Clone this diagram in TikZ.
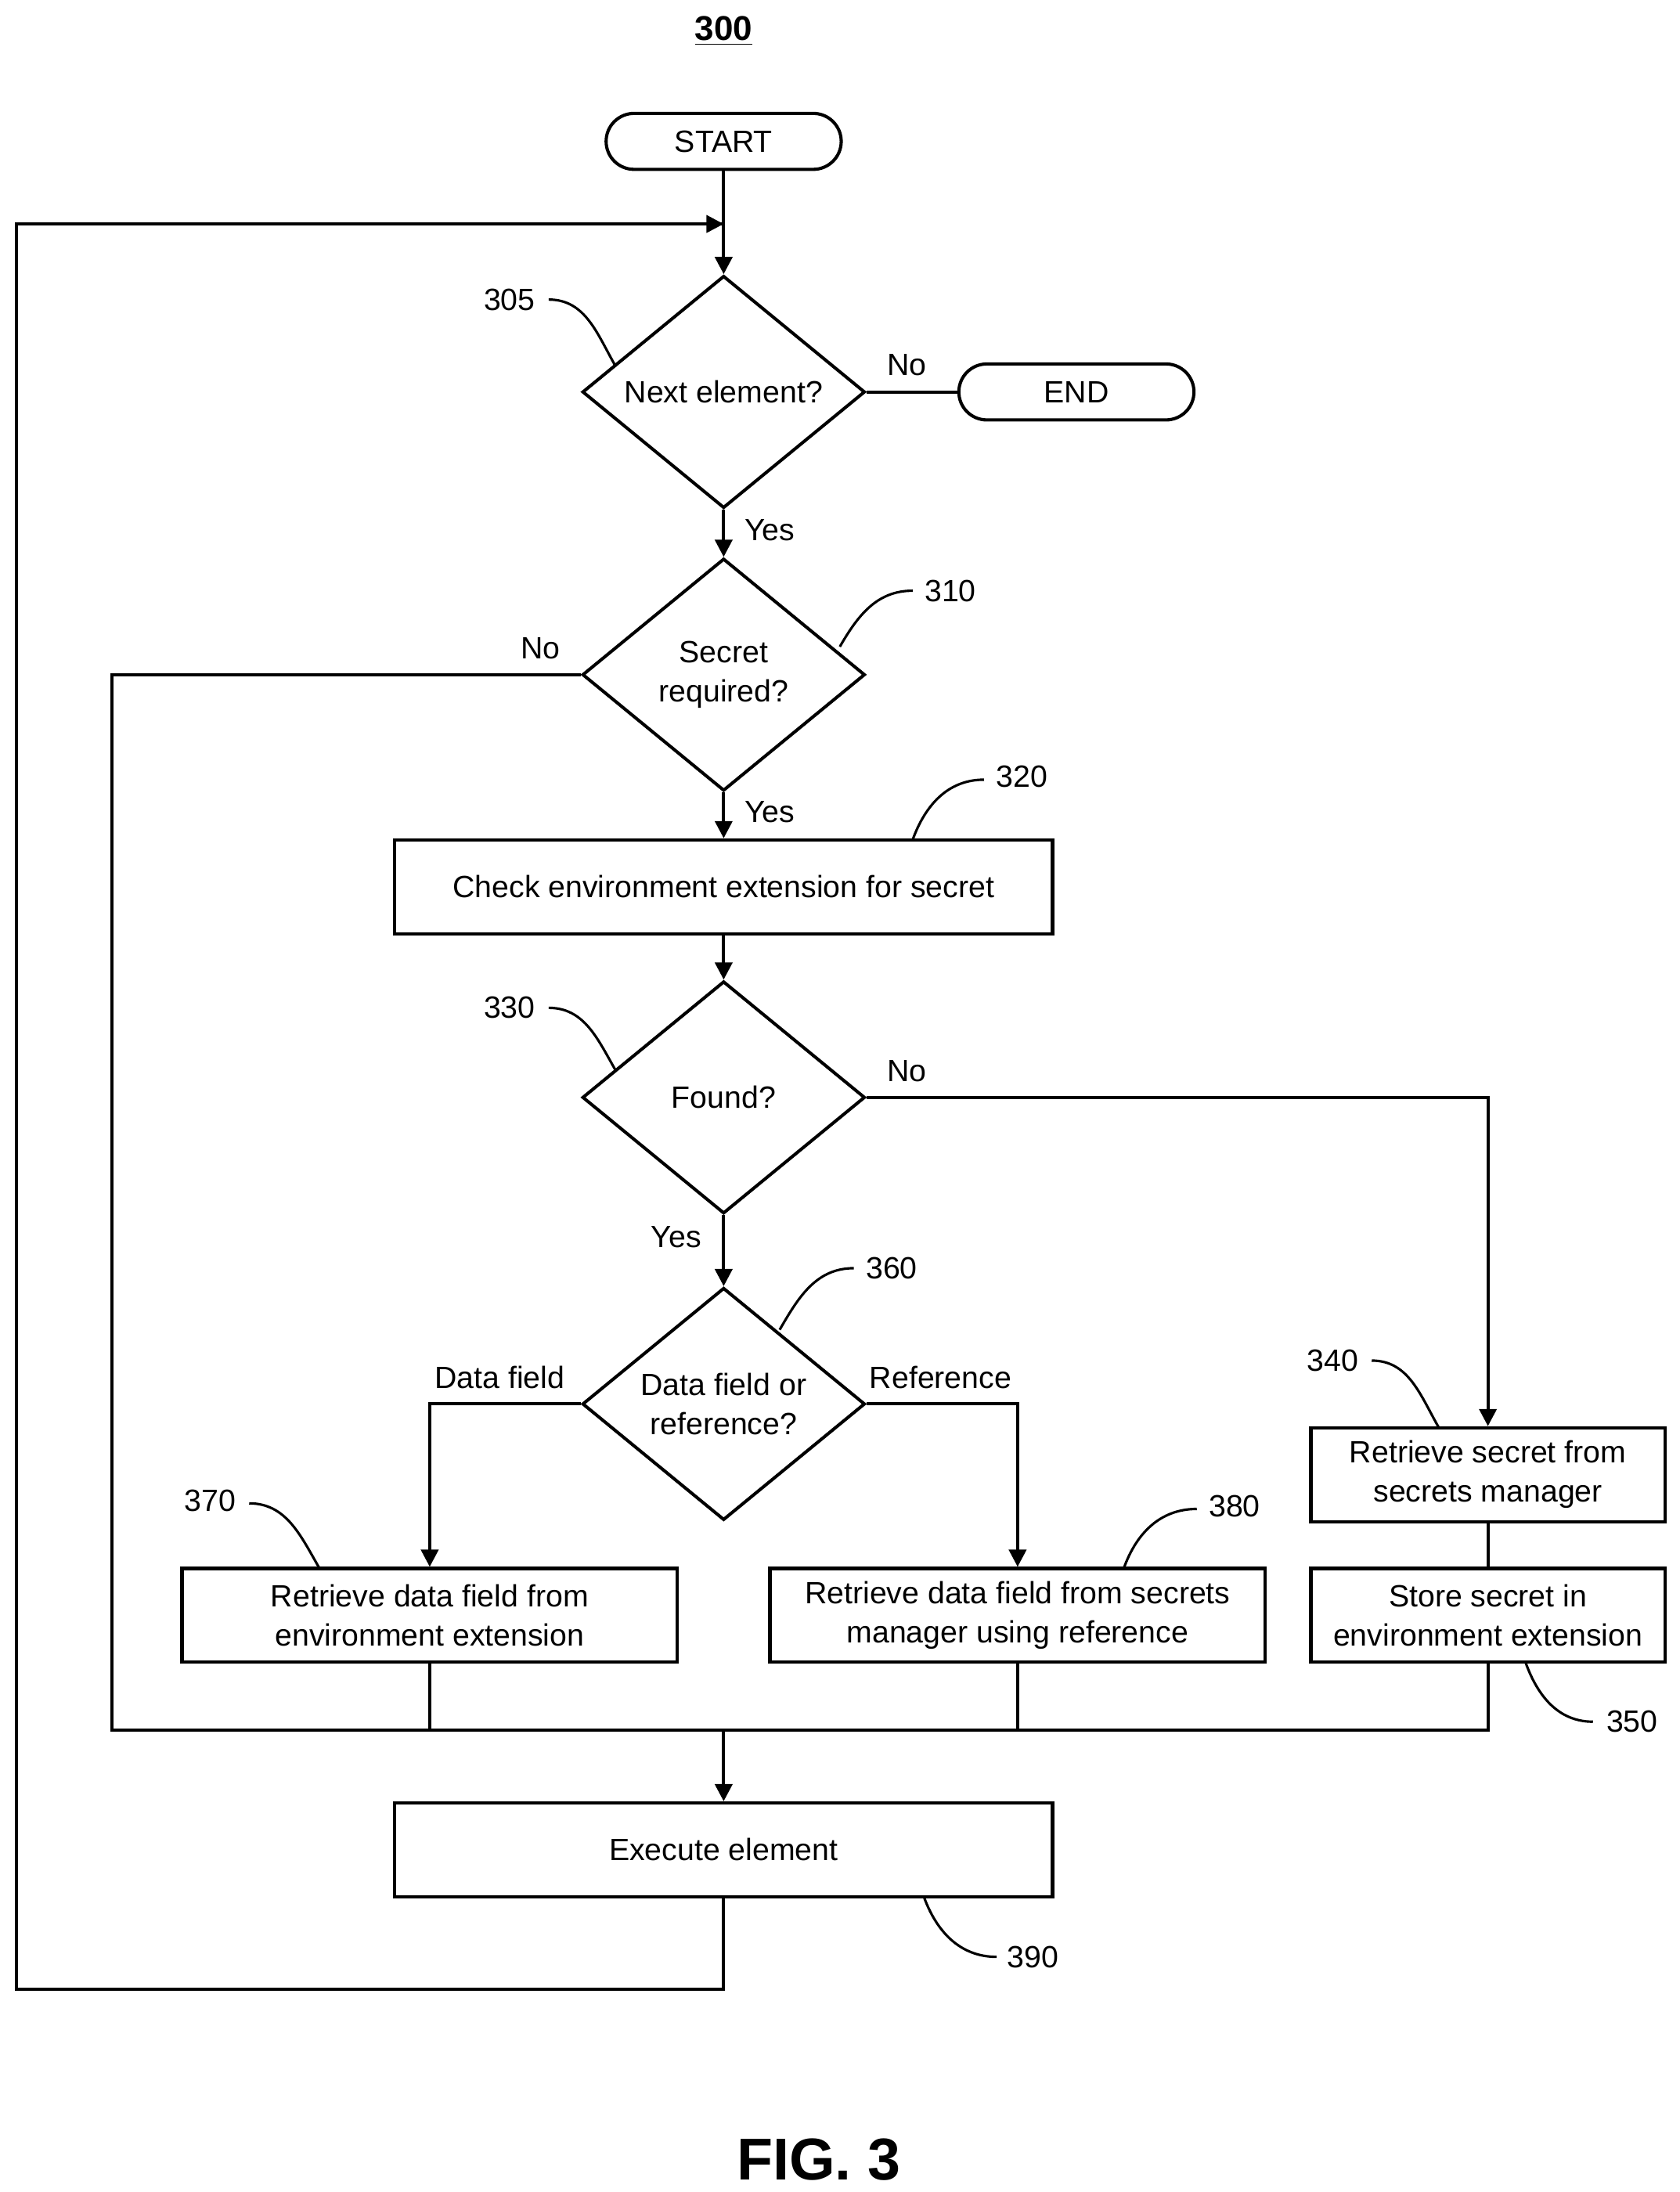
\documentclass[tikz,border=0pt]{standalone}
\usepackage{fontspec}
\setmainfont{Liberation Sans}
\usetikzlibrary{shapes.geometric,arrows.meta}
\begin{document}
\begin{tikzpicture}[x=0.02cm,y=-0.02cm,
  every node/.style={font=\fontsize{12.5}{16}\selectfont},
  box/.style={draw,line width=1.3pt,rectangle,minimum height=1.34cm,align=center,inner sep=0},
  term/.style={draw,line width=1.3pt,rounded corners=0.4cm,minimum width=3.36cm,minimum height=0.8cm},
  dia/.style={draw,line width=1.3pt,diamond,minimum width=4.04cm,minimum height=3.32cm,inner sep=0,align=center,aspect=1.2},
  ln/.style={line width=1.3pt},
  arr/.style={line width=1.3pt,-{Triangle[length=7pt,width=7pt]}},
  lead/.style={line width=1pt}]
\useasboundingbox (0,0) rectangle (1200,1566);
\node[font=\fontsize{14}{16}\selectfont\bfseries] (t) at (517,22) {\underline{300}};
\node[term] (start) at (517,101) {START};
\node[dia] (d305) at (517,280) {Next element?};
\node[term] (end) at (769,280) {END};
\node[dia] (d310) at (517,482) {Secret\\required?};
\node[box,minimum width=9.4cm] (b320) at (517,633.5) {Check environment extension for secret};
\node[dia] (d330) at (517,784) {Found?};
\node[dia] (d360) at (517,1003) {Data field or\\reference?};
\node[box,minimum width=7.08cm] (b370) at (307,1154) {Retrieve data field from\\environment extension};
\node[box,minimum width=7.08cm] (b380) at (727,1154) {Retrieve data field from secrets\\manager using reference};
\node[box,minimum width=5.06cm] (b340) at (1063,1053.5) {Retrieve secret from\\secrets manager};
\node[box,minimum width=5.06cm] (b350) at (1063,1154) {Store secret in\\environment extension};
\node[box,minimum width=9.4cm] (b390) at (517,1321.5) {Execute element};
\node[font=\fontsize{24}{28}\selectfont\bfseries] (fig) at (585,1543) {FIG. 3};

\coordinate (loopin) at (517,160);
\coordinate (m) at (517,1236);
\coordinate (ml) at (80,1236);
\coordinate (mr) at (1063,1236);
\coordinate (l1) at (517,1421);
\coordinate (l2) at (12,1421);
\coordinate (l3) at (12,160);

\draw[arr] (start) -- (d305);
\draw[ln] (d305.east) -- (end.west);
\draw[arr] (d305.south) -- (d310.north);
\draw[arr] (d310.south) -- (b320.north);
\draw[arr] (b320.south) -- (d330.north);
\draw[arr] (d330.south) -- (d360.north);
\draw[arr] (d330.east) -| (b340.north);
\draw[arr] (d360.west) -| (b370.north);
\draw[arr] (d360.east) -| (b380.north);
\draw[ln] (b340) -- (b350);
\draw[ln] (d310.west) -| (ml) -- (mr) -- (b350.south);
\draw[ln] (b370.south) -- (b370.south |- m);
\draw[ln] (b380.south) -- (b380.south |- m);
\draw[arr] (m) -- (b390.north);
\draw[ln] (b390.south) -- (l1) -- (l2) -- (l3) -- (loopin);
\draw[arr] (l3) -- (loopin);

\node at (648,261) {No};
\node at (550,379) {Yes};
\node at (386,463) {No};
\node at (550,580) {Yes};
\node at (648,765) {No};
\node at (483,884) {Yes};
\node at (357,984) {Data field};
\node at (672,984) {Reference};

\node (n305) at (364,214) {305};
\draw[lead] (392,214) to[out=0,in=120] (440,262);
\node (n310) at (679,422) {310};
\draw[lead] (652,422) to[out=180,in=60] (600,462);
\node (n320) at (730,555) {320};
\draw[lead] (703,557) to[out=180,in=70] (652,600);
\node (n330) at (364,720) {330};
\draw[lead] (392,720) to[out=0,in=120] (440,765);
\node (n360) at (637,906) {360};
\draw[lead] (610,906) to[out=180,in=60] (557,950);
\node (n340) at (952,972) {340};
\draw[lead] (980,972) to[out=0,in=120] (1028,1020);
\node (n370) at (150,1072) {370};
\draw[lead] (178,1074) to[out=0,in=120] (228,1120);
\node (n380) at (882,1076) {380};
\draw[lead] (855,1078) to[out=180,in=70] (803,1120);
\node (n350) at (1166,1230) {350};
\draw[lead] (1138,1230) to[out=180,in=-70] (1090,1188);
\node (n390) at (738,1398) {390};
\draw[lead] (712,1398) to[out=180,in=-70] (660,1355);
\end{tikzpicture}
\end{document}
